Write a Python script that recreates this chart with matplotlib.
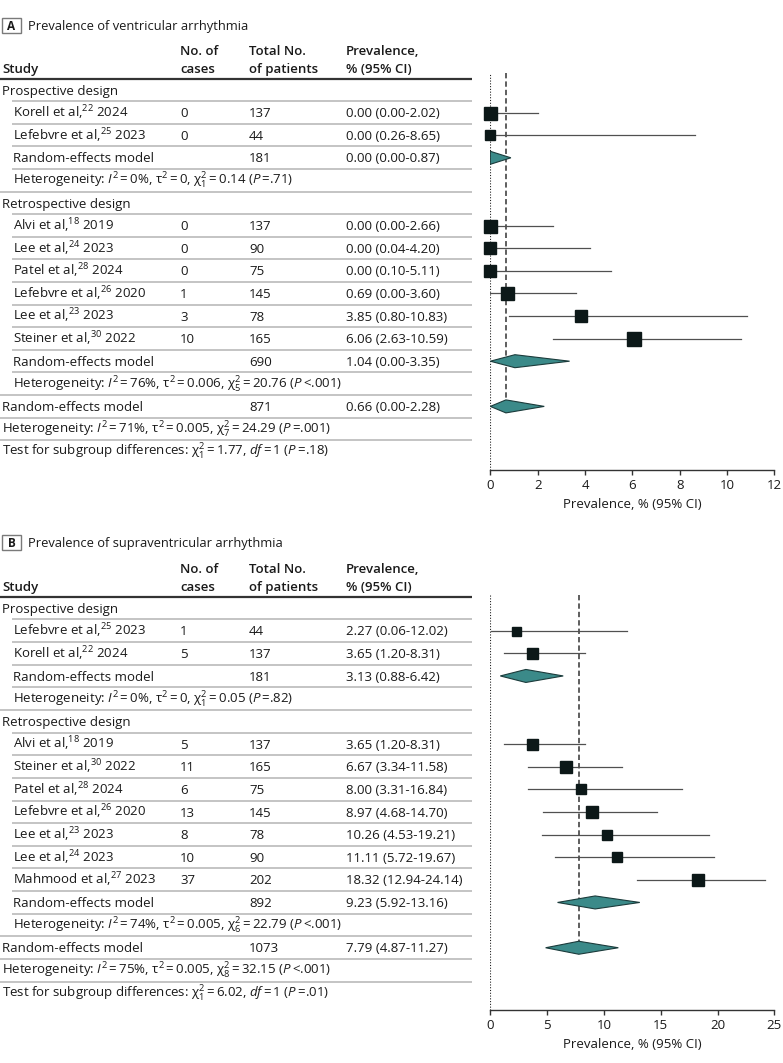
import matplotlib
matplotlib.use("Agg")
import matplotlib.pyplot as plt
from matplotlib.patches import Polygon, Rectangle

FONT = 'Open Sans'
plt.rcParams['font.family'] = [FONT, 'DejaVu Sans']
plt.rcParams['mathtext.fontset'] = 'custom'
plt.rcParams['mathtext.rm'] = FONT
plt.rcParams['mathtext.it'] = FONT + ':italic'
plt.rcParams['mathtext.bf'] = FONT + ':bold'
plt.rcParams['mathtext.fallback'] = 'stixsans'

# ---------------- Panel A data ----------------
A_title = "Prevalence of ventricular arrhythmia"
A_pro_names = ["Korell et al,$^{22}$ 2024", "Lefebvre et al,$^{25}$ 2023"]
A_pro_cases = [0, 0]
A_pro_total = [137, 44]
A_pro_est = [0.00, 0.00]
A_pro_lo = [0.00, 0.26]
A_pro_hi = [2.02, 8.65]
A_pro_re = (181, 0.00, 0.00, 0.87)
A_pro_het = ("0%", "0", "1", "0.14", "=.71")

A_ret_names = ["Alvi et al,$^{18}$ 2019", "Lee et al,$^{24}$ 2023", "Patel et al,$^{28}$ 2024",
               "Lefebvre et al,$^{26}$ 2020", "Lee et al,$^{23}$ 2023", "Steiner et al,$^{30}$ 2022"]
A_ret_cases = [0, 0, 0, 1, 3, 10]
A_ret_total = [137, 90, 75, 145, 78, 165]
A_ret_est = [0.00, 0.00, 0.00, 0.69, 3.85, 6.06]
A_ret_lo = [0.00, 0.04, 0.10, 0.00, 0.80, 2.63]
A_ret_hi = [2.66, 4.20, 5.11, 3.60, 10.83, 10.59]
A_ret_re = (690, 1.04, 0.00, 3.35)
A_ret_het = ("76%", "0.006", "5", "20.76", "<.001")

A_all_re = (871, 0.66, 0.00, 2.28)
A_all_het = ("71%", "0.005", "7", "24.29", "=.001")
A_test = ("1", "1.77", "1", "=.18")
A_xticks = [0, 2, 4, 6, 8, 10, 12]

# ---------------- Panel B data ----------------
B_title = "Prevalence of supraventricular arrhythmia"
B_pro_names = ["Lefebvre et al,$^{25}$ 2023", "Korell et al,$^{22}$ 2024"]
B_pro_cases = [1, 5]
B_pro_total = [44, 137]
B_pro_est = [2.27, 3.65]
B_pro_lo = [0.06, 1.20]
B_pro_hi = [12.02, 8.31]
B_pro_re = (181, 3.13, 0.88, 6.42)
B_pro_het = ("0%", "0", "1", "0.05", "=.82")

B_ret_names = ["Alvi et al,$^{18}$ 2019", "Steiner et al,$^{30}$ 2022", "Patel et al,$^{28}$ 2024",
               "Lefebvre et al,$^{26}$ 2020", "Lee et al,$^{23}$ 2023", "Lee et al,$^{24}$ 2023",
               "Mahmood et al,$^{27}$ 2023"]
B_ret_cases = [5, 11, 6, 13, 8, 10, 37]
B_ret_total = [137, 165, 75, 145, 78, 90, 202]
B_ret_est = [3.65, 6.67, 8.00, 8.97, 10.26, 11.11, 18.32]
B_ret_lo = [1.20, 3.34, 3.31, 4.68, 4.53, 5.72, 12.94]
B_ret_hi = [8.31, 11.58, 16.84, 14.70, 19.21, 19.67, 24.14]
B_ret_re = (892, 9.23, 5.92, 13.16)
B_ret_het = ("74%", "0.005", "6", "22.79", "<.001")

B_all_re = (1073, 7.79, 4.87, 11.27)
B_all_het = ("75%", "0.005", "8", "32.15", "<.001")
B_test = ("1", "6.02", "1", "=.01")
B_xticks = [0, 5, 10, 15, 20, 25]

# marker sizes (px) reflecting study weights
A_pro_msz = [13, 10]
A_ret_msz = [13, 12, 11.5, 13, 12, 13.5]
B_pro_msz = [9, 11]
B_ret_msz = [11, 11.5, 10, 11.5, 10, 10.5, 12]

# ---------------- styling ----------------
W, H = 783, 1063
FS = 9.5
SQ = '#0c1818'
DIA = '#3b8a89'
DIA_E = '#1b3b3b'
CI_C = '#505050'
SEP = '#bfbfbf'
TXT_C = '#1a1a1a'
TS = '\u2009'  # thin space
BASE = 4.7      # px from visual centre to baseline

fig = plt.figure(figsize=(W / 100, H / 100), dpi=100)


def eq(v):
    return TS + "=" + TS + v


def het_text(h):
    i2, t2, df, chi, p = h
    pp = TS + p if p.startswith("<") else TS + "=" + p[1:]
    return (r"Heterogeneity: $I^2$" + eq(i2) + r", $\mathrm{\tau}^2$" + eq(t2) +
            r", $\mathrm{\chi}^2_{" + df + "}$" + eq(chi) + " ($P$" + pp + ")")


def test_text(t):
    df, chi, d, p = t
    return (r"Test for subgroup differences: $\mathrm{\chi}^2_{" + df + "}$" + eq(chi) +
            ", $df$" + eq(d) + " ($P$" + TS + "=" + p[1:] + ")")


def ci_text(e, lo, hi):
    return f"{e:.2f} ({lo:.2f}-{hi:.2f})"


def panel(letter, title, pro, ret, allre, allhet, test, xticks, top_px, r0, sp,
          ax_top, ax_bot, xmax):
    (pn, pc, pt, pe, pl, ph, pm, pre, phet) = pro
    (rn, rc, rt, re_, rl, rh, rm, rre, rhet) = ret
    rows = []
    rows.append(("group", "Prospective design"))
    for i in range(len(pn)):
        rows.append(("study", pn[i], pc[i], pt[i], pe[i], pl[i], ph[i], pm[i]))
    rows.append(("sub", pre))
    rows.append(("subhet", phet))
    rows.append(("group", "Retrospective design"))
    for i in range(len(rn)):
        rows.append(("study", rn[i], rc[i], rt[i], re_[i], rl[i], rh[i], rm[i]))
    rows.append(("sub", rre))
    rows.append(("subhet", rhet))
    rows.append(("all", allre))
    rows.append(("allhet", allhet))
    rows.append(("test", test))
    n = len(rows)

    def k(y):
        return (y - r0) / sp
    ylim = (k(ax_bot), k(ax_top))
    tab = fig.add_axes([0, 1 - ax_bot / H, 1, (ax_bot - ax_top) / H])
    tab.set_xlim(0, W)
    tab.set_ylim(*ylim)
    tab.axis('off')

    x0, x1 = 490.3, 774.3
    ax = fig.add_axes([x0 / W, 1 - ax_bot / H, (x1 - x0) / W, (ax_bot - ax_top) / H])
    ax.set_xlim(0, xmax)
    ax.set_ylim(*ylim)
    ax.patch.set_alpha(0)

    b = BASE / sp  # baseline offset in row units

    # panel letter + title
    ty = k(top_px)
    tab.add_patch(Rectangle((2, ty - 7.5 / sp), 19, 15 / sp, fill=False, ec='#7a7a7a',
                            lw=1.0, clip_on=False))
    tab.text(11.5, ty + 4.2 / sp, letter, ha='center', va='baseline', fontsize=FS - 1,
             fontweight='bold', clip_on=False, color=TXT_C)
    tab.text(28, ty + b, title, ha='left', va='baseline', fontsize=FS - 0.2,
             clip_on=False, color=TXT_C)

    # header
    hy1 = k(r0 - 40) + b
    hy2 = k(r0 - 22) + b
    hdr = dict(ha='left', va='baseline', fontsize=FS, fontweight='semibold',
               clip_on=False, color=TXT_C)
    tab.text(2, hy2, "Study", **hdr)
    tab.text(180, hy1, "No. of", **hdr)
    tab.text(180, hy2, "cases", **hdr)
    tab.text(249, hy1, "Total No.", **hdr)
    tab.text(249, hy2, "of patients", **hdr)
    tab.text(346, hy1, "Prevalence,", **hdr)
    tab.text(346, hy2, "% (95% CI)", **hdr)
    tab.plot([0, 472], [k(r0 - 11), k(r0 - 11)], color='#333333', lw=1.6,
             solid_capstyle='butt', clip_on=False)

    txt = dict(va='baseline', ha='left', fontsize=FS, clip_on=False, color=TXT_C)
    indented = {"study", "sub", "subhet"}
    for i, row in enumerate(rows):
        kind = row[0]
        yt = i + b
        if kind == "group":
            tab.text(2, yt, row[1], **txt)
        elif kind == "study":
            _, nm, c, t, e, lo, hi, ms = row
            tab.text(13, yt, nm, **txt)
            tab.text(180, yt, str(c), **txt)
            tab.text(249, yt, str(t), **txt)
            tab.text(346, yt, ci_text(e, lo, hi), **txt)
            ax.plot([lo, hi], [i, i], color=CI_C, lw=0.9, zorder=2)
            ax.plot([e], [i], marker='s', ms=ms * 0.72, color=SQ, mec=SQ, zorder=3,
                    clip_on=False)
        elif kind in ("sub", "all"):
            t, e, lo, hi = row[1]
            xt = 13 if kind == "sub" else 2
            tab.text(xt, yt, "Random-effects model", **txt)
            tab.text(249, yt, str(t), **txt)
            tab.text(346, yt, ci_text(e, lo, hi), **txt)
            h = 6.5 / sp
            ax.add_patch(Polygon([(lo, i), (e, i - h), (hi, i), (e, i + h)], closed=True,
                                 fc=DIA, ec=DIA_E, lw=0.8, zorder=3))
        elif kind in ("subhet", "allhet"):
            xt = 13 if kind == "subhet" else 2
            tab.text(xt, yt, het_text(row[1]), **txt)
        elif kind == "test":
            tab.text(2, yt, test_text(row[1]), **txt)
        if i < n - 1:
            nxt = rows[i + 1][0]
            xs = 12 if nxt in indented else 0
            tab.plot([xs, 472], [i + 0.5, i + 0.5], color=SEP, lw=1.3,
                     solid_capstyle='butt', clip_on=False)

    all_row = [i for i, r in enumerate(rows) if r[0] == "all"][0]
    ax.axvline(0, color='#222222', lw=0.8, ls=(0, (1, 1.5)), zorder=1)
    ax.plot([allre[1], allre[1]], [ylim[1], all_row + 6.5 / sp], color='#333333',
            lw=1.1, ls=(0, (3.5, 2)), zorder=1)

    for s in ('top', 'right', 'left'):
        ax.spines[s].set_visible(False)
    ax.spines['bottom'].set_color('#333333')
    ax.spines['bottom'].set_linewidth(1.0)
    ax.set_yticks([])
    ax.set_xticks(xticks)
    ax.set_xticklabels([str(v) for v in xticks])
    ax.tick_params(axis='x', length=3.5, width=1.0, color='#333333', pad=3,
                   labelsize=FS, labelcolor=TXT_C)
    ax.set_xlabel("Prevalence, % (95% CI)", fontsize=FS, labelpad=4, color=TXT_C)


panel("A", A_title,
      (A_pro_names, A_pro_cases, A_pro_total, A_pro_est, A_pro_lo, A_pro_hi, A_pro_msz,
       A_pro_re, A_pro_het),
      (A_ret_names, A_ret_cases, A_ret_total, A_ret_est, A_ret_lo, A_ret_hi, A_ret_msz,
       A_ret_re, A_ret_het),
      A_all_re, A_all_het, A_test, A_xticks,
      top_px=25.5, r0=90, sp=22.6, ax_top=73, ax_bot=470, xmax=12)

panel("B", B_title,
      (B_pro_names, B_pro_cases, B_pro_total, B_pro_est, B_pro_lo, B_pro_hi, B_pro_msz,
       B_pro_re, B_pro_het),
      (B_ret_names, B_ret_cases, B_ret_total, B_ret_est, B_ret_lo, B_ret_hi, B_ret_msz,
       B_ret_re, B_ret_het),
      B_all_re, B_all_het, B_test, B_xticks,
      top_px=542.5, r0=608, sp=22.65, ax_top=595, ax_bot=1010, xmax=25)

fig.savefig("out.png", dpi=100)
